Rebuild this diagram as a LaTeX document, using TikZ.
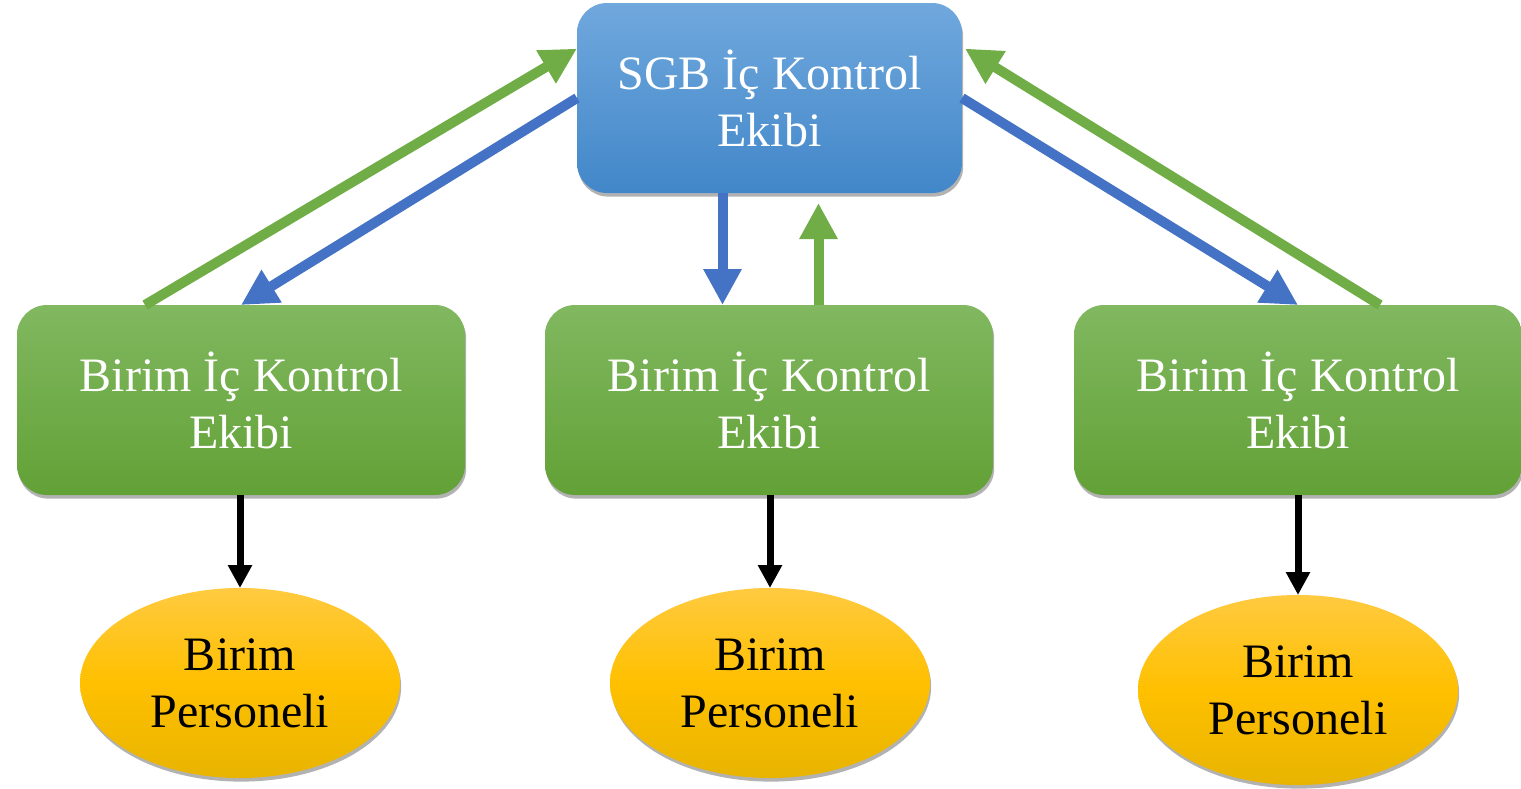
\documentclass[tikz,border=0pt]{standalone}
\usepackage{fontspec}
\setmainfont{Liberation Serif}
\usetikzlibrary{arrows.meta,calc,shadows,shapes.geometric}
\begin{document}
\begin{tikzpicture}[x=0.5pt,y=-0.5pt,
  every node/.style={align=center, font=\fontsize{24}{28.5}\selectfont, inner sep=0pt, outer sep=0pt},
  box/.style={rounded corners=15pt, minimum height=95pt, text=white,
    drop shadow={shadow xshift=0.6pt, shadow yshift=-1.8pt, opacity=0.3, fill=black}},
  sgbbox/.style={box, minimum width=192.5pt, top color={rgb,255:red,112;green,168;blue,221}, bottom color={rgb,255:red,66;green,135;blue,201}},
  unitbox/.style={box, minimum width=224pt, top color={rgb,255:red,129;green,184;blue,96}, bottom color={rgb,255:red,98;green,161;blue,54}},
  staff/.style={ellipse, minimum width=160pt, minimum height=95pt, text=black,
    top color={rgb,255:red,255;green,202;blue,64}, bottom color={rgb,255:red,232;green,180;blue,0}, middle color={rgb,255:red,255;green,192;blue,0},
    drop shadow={shadow xshift=0.6pt, shadow yshift=-1.8pt, opacity=0.3, fill=black}},
  down/.style={line width=5pt, draw={rgb,255:red,68;green,114;blue,196}, -{Triangle[length=18pt,width=18pt]}},
  up/.style={line width=5pt, draw={rgb,255:red,112;green,173;blue,71}, -{Triangle[length=18pt,width=18pt]}},
  link/.style={line width=3.5pt, draw=black, -{Triangle[length=11.5pt,width=11.5pt]}}]
\useasboundingbox (0,0) rectangle (1521,788);
\node[sgbbox] (sgb) at (769.5,98) {SGB İç Kontrol\\Ekibi};
\node[unitbox] (birim1) at (241,400) {Birim İç Kontrol\\Ekibi};
\node[unitbox] (birim2) at (769,400) {Birim İç Kontrol\\Ekibi};
\node[unitbox] (birim3) at (1298,400) {Birim İç Kontrol\\Ekibi};
\node[staff] (pers1) at (240,683) {Birim\\Personeli};
\node[staff] (pers2) at (770,683) {Birim\\Personeli};
\node[staff] (pers3) at (1298,690) {Birim\\Personeli};
\coordinate (sgbdown) at ($(sgb.south)+(-47,0)$);
\coordinate (sgbup) at ($(sgb.south)+(49,10)$);
\draw[up] ($(birim1.north)+(-96,0)$) -- ($(sgb.north west)!0.24!(sgb.south west)$);
\draw[down] (sgb.west) -- (birim1.north);
\draw[down] (sgbdown) -- (sgbdown |- birim2.north);
\draw[up] (sgbup |- birim2.north) -- (sgbup);
\draw[down] (sgb.east) -- (birim3.north);
\draw[up] ($(birim3.north)+(82,0)$) -- ($(sgb.north east)!0.24!(sgb.south east)+(3,0)$);
\draw[link] (pers1.north |- birim1.south) -- (pers1.north);
\draw[link] (pers2.north |- birim2.south) -- (pers2.north);
\draw[link] (birim3.south) -- (pers3.north);
\end{tikzpicture}
\end{document}
